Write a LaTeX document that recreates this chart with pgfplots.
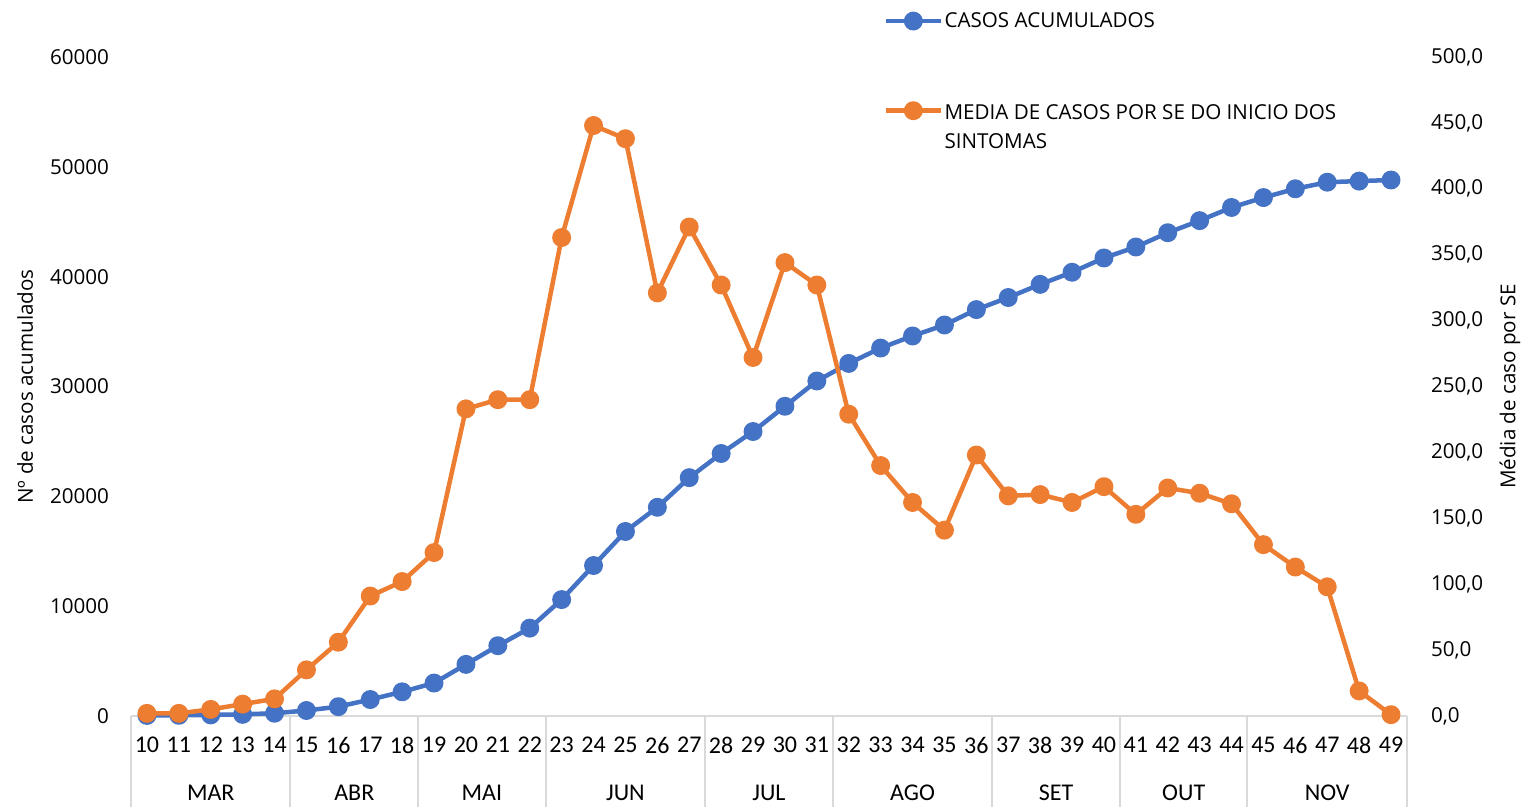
\documentclass[border=0pt]{standalone}
\usepackage{fontspec}
\setmainfont{Open Sans}
\newfontfamily\carlito{Carlito}
\usepackage{pgfplots}
\pgfplotsset{compat=1.18}
\definecolor{cblue}{HTML}{4472C4}
\definecolor{corange}{HTML}{ED7D31}
\definecolor{sepgray}{HTML}{D9D9D9}
\begin{document}
\begin{tikzpicture}[font=\fontsize{10.3}{14.5}\selectfont]
\pgfplotsset{
  common/.style={
    width=638pt, height=329.5pt, scale only axis,
    at={(0,0)}, anchor=south west,
    xmin=9.5, xmax=49.5, ymin=0,
    major tick length=0pt, clip=false,
    /pgf/number format/assume math mode=true,
  },
  ser/.style={line width=2.25pt, line join=round, mark=*, mark size=3.6pt, mark options={solid}},
}
\begin{axis}[common,
  ymax=60000, ytick={0,10000,...,60000},
  scaled y ticks=false,
  yticklabel style={xshift=-7.5pt, /pgf/number format/set thousands separator={}, /pgf/number format/assume math mode=true},
  xtick={10,...,49},
  xticklabel style={yshift=-7pt, font=\carlito\fontsize{12}{14.4}\selectfont},
  axis x line*=bottom, axis y line*=left,
  x axis line style={sepgray, line width=1pt},
  y axis line style={draw=none},
  ylabel={Nº de casos acumulados},
  every axis y label/.style={at={(rel axis cs:-0.083,0.5)}, rotate=90, anchor=center},
]
\addplot[ser, color=cblue] coordinates {
(10,50) (11,60) (12,100) (13,150) (14,250) (15,500) (16,850) (17,1500) (18,2200) (19,3000)
(20,4700) (21,6400) (22,8000) (23,10600) (24,13700) (25,16800) (26,19000) (27,21700) (28,23900) (29,25900)
(30,28200) (31,30500) (32,32100) (33,33500) (34,34600) (35,35600) (36,37000) (37,38100) (38,39300) (39,40400)
(40,41700) (41,42700) (42,44000) (43,45100) (44,46300) (45,47200) (46,48000) (47,48600) (48,48700) (49,48800)
};
\draw[sepgray, line width=1pt] (axis cs:9.5,0) -- ++(0pt,-45.5pt);
\draw[sepgray, line width=1pt] (axis cs:14.5,0) -- ++(0pt,-45.5pt);
\draw[sepgray, line width=1pt] (axis cs:18.5,0) -- ++(0pt,-45.5pt);
\draw[sepgray, line width=1pt] (axis cs:22.5,0) -- ++(0pt,-45.5pt);
\draw[sepgray, line width=1pt] (axis cs:27.5,0) -- ++(0pt,-45.5pt);
\draw[sepgray, line width=1pt] (axis cs:31.5,0) -- ++(0pt,-45.5pt);
\draw[sepgray, line width=1pt] (axis cs:36.5,0) -- ++(0pt,-45.5pt);
\draw[sepgray, line width=1pt] (axis cs:40.5,0) -- ++(0pt,-45.5pt);
\draw[sepgray, line width=1pt] (axis cs:44.5,0) -- ++(0pt,-45.5pt);
\draw[sepgray, line width=1pt] (axis cs:49.5,0) -- ++(0pt,-45.5pt);
\begin{scope}[every node/.style={yshift=-38.5pt, font=\carlito\fontsize{12}{14.4}\selectfont}]
\node at (axis cs:12,0) {MAR};
\node at (axis cs:16.5,0) {ABR};
\node at (axis cs:20.5,0) {MAI};
\node at (axis cs:25,0) {JUN};
\node at (axis cs:29.5,0) {JUL};
\node at (axis cs:34,0) {AGO};
\node at (axis cs:38.5,0) {SET};
\node at (axis cs:42.5,0) {OUT};
\node at (axis cs:47,0) {NOV};
\end{scope}
\end{axis}
\begin{axis}[common,
  ymax=500, ytick={0,50,...,500},
  yticklabel style={xshift=8.5pt, /pgf/number format/fixed, /pgf/number format/fixed zerofill, /pgf/number format/precision=1, /pgf/number format/use comma, /pgf/number format/assume math mode=true},
  axis x line=none, axis y line*=right,
  y axis line style={draw=none},
  xtick=\empty,
  ylabel={Média de caso por SE},
  every axis y label/.style={at={(rel axis cs:1.0807,0.5)}, rotate=90, anchor=center},
  legend style={at={(rel axis cs:0.5895,1.071)}, anchor=north west, draw=none, fill=none,
    inner sep=0pt, row sep=33pt, nodes={inner sep=0.75pt}},
  legend cell align=left,
  legend image code/.code={\draw[#1, mark repeat=2, mark phase=2] plot coordinates {(0pt,0pt) (13.75pt,0pt) (27.5pt,0pt)};},
]
\addlegendimage{ser, color=cblue}
\addlegendentry{CASOS ACUMULADOS}
\addplot[ser, color=corange] coordinates {
(10,2) (11,2) (12,5) (13,9) (14,13) (15,35) (16,56) (17,91) (18,102) (19,124)
(20,233) (21,240) (22,240) (23,363) (24,448) (25,438) (26,321) (27,371) (28,327) (29,272)
(30,344) (31,327) (32,229) (33,190) (34,162) (35,141) (36,198) (37,167) (38,168) (39,162)
(40,174) (41,153) (42,173) (43,169) (44,161) (45,130) (46,113) (47,98) (48,19) (49,1)
};
\addlegendentry{\begin{tabular}[t]{@{}l@{}}MEDIA DE CASOS POR SE DO INICIO DOS\\SINTOMAS\end{tabular}}
\end{axis}
\pgfresetboundingbox
\path (-65.5pt,-45.5pt) rectangle (698pt,358pt);
\end{tikzpicture}
\end{document}
